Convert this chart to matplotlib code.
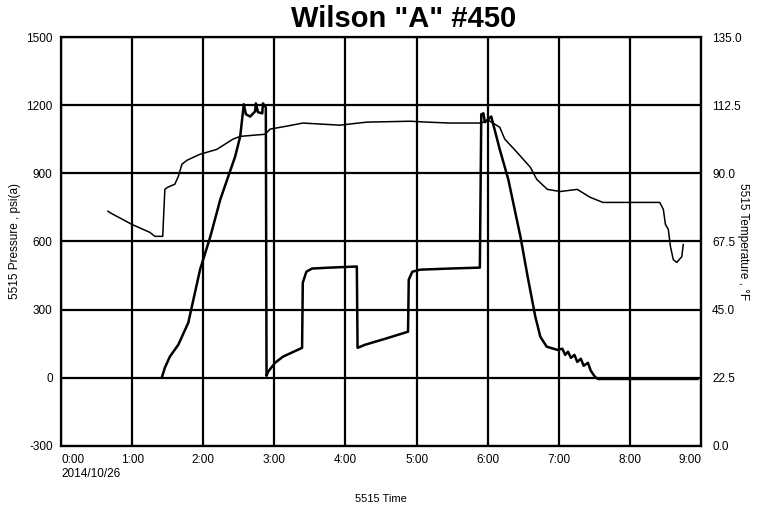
import matplotlib
matplotlib.use("Agg")
import matplotlib.pyplot as plt

plt.rcParams['font.family'] = ['Liberation Sans', 'DejaVu Sans']

# pressure trace (hours, psi(a))
p_time = [1.42, 1.46, 1.53, 1.65, 1.79, 1.955, 2.10, 2.24, 2.45, 2.52, 2.57,
          2.60, 2.66, 2.73, 2.74, 2.77, 2.83, 2.84, 2.88, 2.89,
          2.91, 3.01, 3.12, 3.39, 3.40, 3.45, 3.53, 3.78, 4.16,
          4.17, 4.28, 4.56, 4.88, 4.89, 4.94, 5.05, 5.47, 5.89,
          5.91, 5.94, 5.96, 6.05, 6.17, 6.29, 6.46, 6.57, 6.67, 6.74, 6.83, 6.98,
          7.05, 7.09, 7.13, 7.17, 7.22, 7.26, 7.31, 7.35, 7.41, 7.45, 7.51,
          7.55, 8.95]
p_psi = [4, 44, 93, 146, 243, 476, 622, 785, 975, 1063, 1204,
         1160, 1150, 1173, 1208, 1169, 1164, 1208, 1190, 9,
         26, 66, 93, 132, 419, 467, 481, 485, 490,
         132, 146, 172, 203, 432, 467, 476, 481, 485,
         1160, 1164, 1125, 1150, 1005, 873, 622, 432, 269, 181, 137, 123,
         128, 101, 115, 88, 101, 70, 84, 53, 66, 31, 4,
         -5, -5]

# temperature trace (hours, degF)
t_time = [0.66, 0.69, 1.00, 1.25, 1.32, 1.43, 1.46, 1.50, 1.60, 1.65, 1.70,
          1.77, 1.955, 2.19, 2.42, 2.52, 2.87, 2.94, 3.18, 3.40, 3.92, 4.30,
          4.91, 5.15, 5.47, 5.89, 5.94, 6.01, 6.17, 6.24, 6.41, 6.60, 6.69,
          6.84, 7.02, 7.26, 7.44, 7.62, 8.42, 8.47, 8.50, 8.54, 8.57, 8.61,
          8.66, 8.73, 8.75]
t_degf = [77.5, 77.0, 73.1, 70.5, 69.2, 69.2, 84.7, 85.4, 86.4, 89.0, 93.0,
          94.3, 96.3, 97.9, 101.3, 102.2, 102.9, 104.6, 105.6, 106.6, 105.9, 106.9,
          107.2, 106.9, 106.6, 106.6, 106.9, 107.5, 105.2, 101.3, 97.0, 92.0, 88.0,
          84.7, 84.0, 84.7, 82.1, 80.4, 80.4, 78.1, 73.1, 71.5, 65.9, 61.5,
          60.6, 62.5, 66.5]

x_ticks = list(range(10))
x_labels = ['0:00\n2014/10/26', '1:00', '2:00', '3:00', '4:00', '5:00',
            '6:00', '7:00', '8:00', '9:00']
p_ticks = [-300, 0, 300, 600, 900, 1200, 1500]
t_ticks = [0.0, 22.5, 45.0, 67.5, 90.0, 112.5, 135.0]

fig = plt.figure(figsize=(7.59, 5.09), dpi=100)
ax = fig.add_axes([0.0804, 0.1238, 0.8432, 0.8035])

ax.plot(p_time, p_psi, color='black', lw=1.8, zorder=3)
ax.set_xlim(0, 9)
ax.set_ylim(-300, 1500)
ax.set_xticks(x_ticks)
ax.set_xticklabels(x_labels, fontsize=8.5)
labs = ax.get_xticklabels()
labs[0].set_horizontalalignment('left')
labs[-1].set_horizontalalignment('right')
ax.set_yticks(p_ticks)
ax.set_yticklabels([str(v) for v in p_ticks], fontsize=8.5)
ax.tick_params(length=0, pad=6)
ax.grid(True, color='black', lw=1.6)
for s in ax.spines.values():
    s.set_linewidth(1.6)
ax.set_ylabel('5515 Pressure , psi(a)', fontsize=8.5, labelpad=4)
ax.set_xlabel('5515 Time', fontsize=8, labelpad=10)

ax2 = ax.twinx()
ax2.plot(t_time, t_degf, color='black', lw=1.1, zorder=3)
ax2.set_ylim(0, 135)
ax2.set_yticks(t_ticks)
ax2.set_yticklabels(['%.1f' % v for v in t_ticks], fontsize=8.5)
ax2.tick_params(length=0, pad=8)
ax2.set_ylabel('5515 Temperature , \u00b0F', fontsize=8.5, rotation=-90, labelpad=5)

fig.text(0.532, 0.963, 'Wilson "A" #450', fontsize=21, fontweight='bold',
         ha='center', va='center')

fig.savefig('out.png', dpi=100)
